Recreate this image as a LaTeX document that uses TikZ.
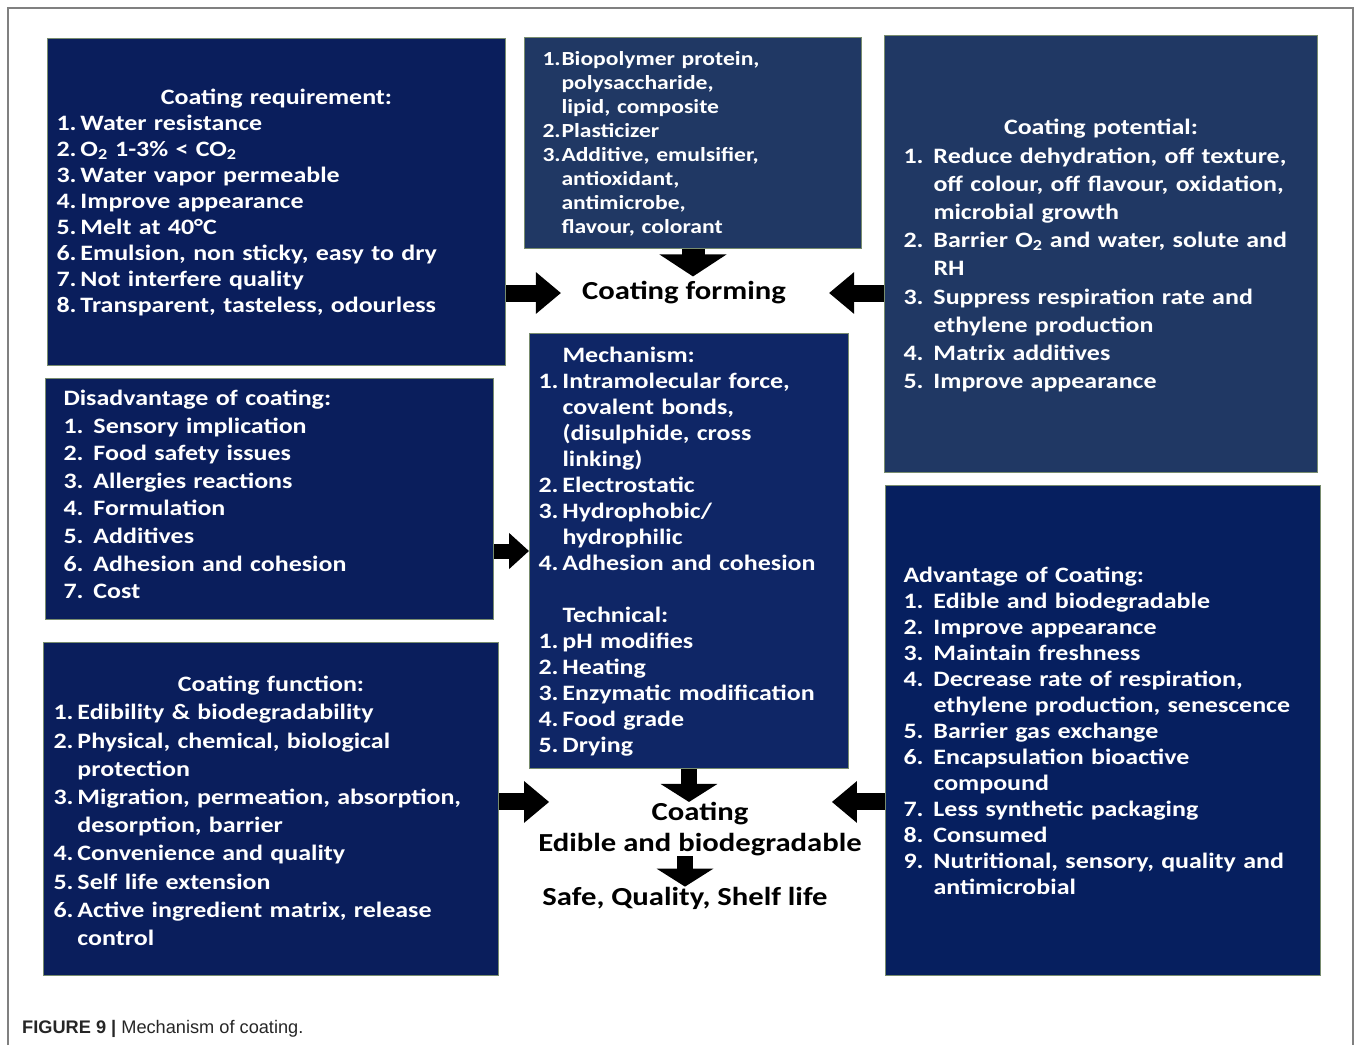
\documentclass[tikz,border=0pt]{standalone}
\usepackage{fontspec}
\setmainfont{Carlito}[FakeStretch=1.18]
\newfontfamily\capfont{Liberation Sans}
\usetikzlibrary{positioning, arrows.meta}
\definecolor{navyA}{RGB}{10,30,92}
\definecolor{navyB}{RGB}{32,56,100}
\definecolor{navyC}{RGB}{15,38,102}
\definecolor{navyD}{RGB}{6,31,95}
\definecolor{boxedge}{RGB}{120,140,110}
\definecolor{framegray}{RGB}{128,128,128}
\newlength{\numw}
\newcommand{\boxline}[2]{\par\noindent\mbox{\makebox[\numw][l]{#1}#2}\par}
\newcommand{\boxtitle}[1]{\par\noindent\makebox[\hsize]{#1}\par}
\tikzset{box/.style={draw=boxedge, line width=1pt, text=white, align=left, anchor=north west, inner ysep=0pt, font=\bfseries\fontsize{22}{26}\selectfont, execute at end node={\par\vspace*{9pt}}}}
\tikzset{midtext/.style={font=\bfseries\fontsize{26}{31}\selectfont, inner sep=0pt, align=center}}
\tikzset{bigarr/.style={draw=black, line width=17pt, -{Triangle[width=40pt,length=25pt]}}}
\tikzset{smallarr/.style={draw=black, line width=15pt, -{Triangle[width=35pt,length=20pt]}}}
\tikzset{downarr/.style={draw=black, line width=23pt, -{Triangle[width=66pt,length=22pt]}}}
\tikzset{downarrS/.style={draw=black, line width=16pt, -{Triangle[width=56pt,length=18pt]}}}

\begin{document}
\begin{tikzpicture}[x=1pt, y=-1pt]
	\useasboundingbox (0,0) rectangle (1358,1045);
	\draw[framegray, line width=1.5pt] (8,1045) -- (8,8) -- (1353,8) -- (1353,1045);
	%
	\node[box, fill=navyA, inner xsep=9pt, text width=440pt, minimum height=327pt] (req) at (47,38) {%
		\setlength{\numw}{24pt}%
		\boxtitle{Coating requirement:}
		\boxline{1.}{Water resistance}
		\boxline{2.}{O\textsubscript{2} 1-3\% < CO\textsubscript{2}}
		\boxline{3.}{Water vapor permeable}
		\boxline{4.}{Improve appearance}
		\boxline{5.}{Melt at 40°C}
		\boxline{6.}{Emulsion, non sticky, easy to dry}
		\boxline{7.}{Not interfere quality}
		\boxline{8.}{Transparent, tasteless, odourless}};
	\node[box, fill=navyB, inner xsep=18pt, text width=301pt, minimum height=211pt, font=\bfseries\fontsize{20}{24}\selectfont] (mater) at (524,37) {%
		\setlength{\numw}{19pt}%
		\boxline{1.}{Biopolymer protein,}
		\boxline{}{polysaccharide,}
		\boxline{}{lipid, composite}
		\boxline{2.}{Plasticizer}
		\boxline{3.}{Additive, emulsifier,}
		\boxline{}{antioxidant,}
		\boxline{}{antimicrobe,}
		\boxline{}{flavour, colorant}};
	\node[box, fill=navyB, inner xsep=19pt, text width=395pt, minimum height=437pt, font=\bfseries\fontsize{22}{28.2}\selectfont] (pot) at (884,35) {%
		\setlength{\numw}{30pt}%
		\boxtitle{Coating potential:}
		\boxline{1.}{Reduce dehydration, off texture,}
		\boxline{}{off colour, off flavour, oxidation,}
		\boxline{}{microbial growth}
		\boxline{2.}{Barrier O\textsubscript{2} and water, solute and}
		\boxline{}{RH}
		\boxline{3.}{Suppress respiration rate and}
		\boxline{}{ethylene production}
		\boxline{4.}{Matrix additives}
		\boxline{5.}{Improve appearance}};
	\node[box, fill=navyA, inner xsep=18pt, text width=412pt, minimum height=241pt, font=\bfseries\fontsize{22}{27.6}\selectfont] (disadv) at (45,378) {%
		\setlength{\numw}{30pt}%
		\noindent Disadvantage of coating:\par
		\boxline{1.}{Sensory implication}
		\boxline{2.}{Food safety issues}
		\boxline{3.}{Allergies reactions}
		\boxline{4.}{Formulation}
		\boxline{5.}{Additives}
		\boxline{6.}{Adhesion and cohesion}
		\boxline{7.}{Cost}};
	\node[box, fill=navyC, inner xsep=9pt, text width=301pt, minimum height=435pt] (mech) at (529,333) {%
		\setlength{\numw}{24pt}%
		\boxline{}{Mechanism:}
		\boxline{1.}{Intramolecular force,}
		\boxline{}{covalent bonds,}
		\boxline{}{(disulphide, cross}
		\boxline{}{linking)}
		\boxline{2.}{Electrostatic}
		\boxline{3.}{Hydrophobic/}
		\boxline{}{hydrophilic}
		\boxline{4.}{Adhesion and cohesion}
		\boxline{}{}
		\boxline{}{Technical:}
		\boxline{1.}{pH modifies}
		\boxline{2.}{Heating}
		\boxline{3.}{Enzymatic modification}
		\boxline{4.}{Food grade}
		\boxline{5.}{Drying}};
	\node[box, fill=navyA, inner xsep=10pt, text width=435pt, minimum height=333pt, font=\bfseries\fontsize{22}{28.2}\selectfont] (func) at (43,642) {%
		\setlength{\numw}{24pt}%
		\boxtitle{Coating function:}
		\boxline{1.}{Edibility \& biodegradability}
		\boxline{2.}{Physical, chemical, biological}
		\boxline{}{protection}
		\boxline{3.}{Migration, permeation, absorption,}
		\boxline{}{desorption, barrier}
		\boxline{4.}{Convenience and quality}
		\boxline{5.}{Self life extension}
		\boxline{6.}{Active ingredient matrix, release}
		\boxline{}{control}};
	\node[box, fill=navyD, inner xsep=18pt, text width=399pt, minimum height=490pt] (adv) at (885,485) {%
		\setlength{\numw}{30pt}%
		\noindent Advantage of Coating:\par
		\boxline{1.}{Edible and biodegradable}
		\boxline{2.}{Improve appearance}
		\boxline{3.}{Maintain freshness}
		\boxline{4.}{Decrease rate of respiration,}
		\boxline{}{ethylene production, senescence}
		\boxline{5.}{Barrier gas exchange}
		\boxline{6.}{Encapsulation bioactive}
		\boxline{}{compound}
		\boxline{7.}{Less synthetic packaging}
		\boxline{8.}{Consumed}
		\boxline{9.}{Nutritional, sensory, quality and}
		\boxline{}{antimicrobial}\vspace*{-9pt}};
	%
	\node[midtext] (form) at (684,293) {Coating forming};
	\node[midtext] (coat) at (700,829) {Coating\\Edible and biodegradable};
	\node[midtext] (safe) at (685,898) {Safe, Quality, Shelf life};
	%
	\draw[bigarr] (req.east |- form.west) -- ([xshift=-21pt]form.west);
	\draw[bigarr] (pot.west |- form.east) -- ([xshift=43pt]form.east);
	\draw[downarr, shorten >=5pt] (mater.south) -- (mater.south |- form.north);
	\draw[smallarr] (disadv.east |- mech.west) -- (mech.west);
	\draw[downarrS] (mech.south) -- (mech.south |- coat.north);
	\draw[downarrS] (coat.south -| safe.north) -- (safe.north);
	\draw[bigarr] (func.east |- coat.north west) -- ([xshift=11pt]coat.north west);
	\draw[bigarr] (adv.west |- coat.north east) -- ([xshift=-30pt]coat.north east);
	%
	\node[anchor=base west, inner sep=0pt, text=black!85, font=\capfont\fontsize{18.2}{21}\selectfont] (caption) at (22,1033) {\textbf{FIGURE 9 |} Mechanism of coating.};
\end{tikzpicture}
\end{document}
